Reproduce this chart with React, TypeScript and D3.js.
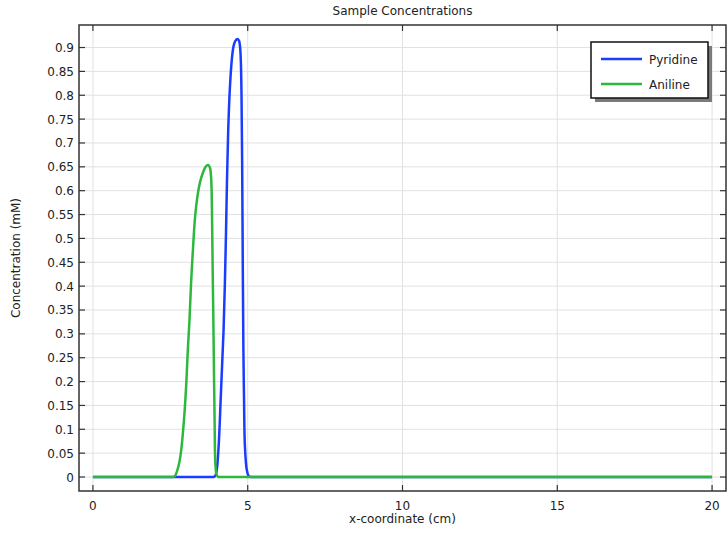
import React from "react";
import * as d3 from "d3";

const title = "Sample Concentrations";
const xLabel = "x-coordinate (cm)";
const yLabel = "Concentration (mM)";
const seriesNames = ["Pyridine", "Aniline"];
const seriesColors = ["#1b3cff", "#2db83d"];

const xTicks = [0, 5, 10, 15, 20];
const yTicks = [0, 0.05, 0.1, 0.15, 0.2, 0.25, 0.3, 0.35, 0.4, 0.45, 0.5, 0.55, 0.6, 0.65, 0.7, 0.75, 0.8, 0.85, 0.9];

const pyridineX = [0, 1, 2, 3, 3.5, 3.75, 3.85, 3.9, 3.95, 4.0, 4.06, 4.13, 4.22, 4.285, 4.33, 4.37, 4.42, 4.48, 4.54, 4.6, 4.67, 4.72, 4.755, 4.78, 4.8, 4.82, 4.84, 4.86, 4.88, 4.91, 4.97, 5.03, 5.1, 5.15, 5.25, 5.5, 6, 7, 8, 10, 12, 14, 16, 18, 20];
const pyridineY = [0, 0, 0, 0, 0, 0, 0, 0, 0.002, 0.015, 0.064, 0.168, 0.308, 0.47, 0.62, 0.727, 0.81, 0.87, 0.902, 0.914, 0.918, 0.914, 0.9, 0.867, 0.797, 0.66, 0.45, 0.27, 0.168, 0.064, 0.015, 0.002, 0, 0, 0, 0, 0, 0, 0, 0, 0, 0, 0, 0, 0];

const anilineX = [0, 1, 1.5, 2, 2.3, 2.45, 2.55, 2.6, 2.65, 2.76, 2.84, 2.94, 3.01, 3.06, 3.12, 3.17, 3.23, 3.3, 3.38, 3.46, 3.55, 3.64, 3.72, 3.78, 3.82, 3.845, 3.865, 3.89, 3.93, 3.96, 4.0, 4.05, 4.1, 4.2, 4.4, 4.7, 5, 6, 7, 8, 10, 12, 14, 16, 18, 20];
const anilineY = [0, 0, 0, 0, 0, 0, 0, 0, 0.002, 0.022, 0.05, 0.119, 0.189, 0.259, 0.33, 0.406, 0.476, 0.545, 0.59, 0.618, 0.637, 0.65, 0.654, 0.648, 0.625, 0.56, 0.45, 0.33, 0.119, 0.022, 0.004, 0, 0, 0, 0, 0, 0, 0, 0, 0, 0, 0, 0, 0, 0, 0];

const W = 728;
const H = 536;
const left = 79;
const right = 726;
const top = 25;
const bottom = 491;

export default function App() {
  const x = d3.scaleLinear().domain([-0.45, 20.45]).range([left, right]);
  const y = d3.scaleLinear().domain([-0.0293, 0.9472]).range([bottom, top]);
  const line = d3
    .line<[number, number]>()
    .x((d) => x(d[0]))
    .y((d) => y(d[1]))
    .curve(d3.curveCatmullRom.alpha(0.5));
  const series = [
    pyridineX.map((v, i) => [v, pyridineY[i]] as [number, number]),
    anilineX.map((v, i) => [v, anilineY[i]] as [number, number]),
  ];
  const font = "'DejaVu Sans', sans-serif";
  const tickLen = 6;
  const lx = 591, ly = 42, lw = 117, lh = 56;

  return (
    <svg width={W} height={H} style={{ position: "absolute", left: 0, top: 0, background: "#fff" }} fontFamily={font}>
      <rect x={0} y={0} width={W} height={H} fill="#fff" />
      {xTicks.map((t) => (
        <line key={"gx" + t} x1={x(t)} x2={x(t)} y1={top} y2={bottom} stroke="#e1e1e1" strokeWidth={1} />
      ))}
      {yTicks.map((t) => (
        <line key={"gy" + t} x1={left} x2={right} y1={y(t)} y2={y(t)} stroke="#e1e1e1" strokeWidth={1} />
      ))}
      {series.map((s, i) => (
        <path key={"s" + i} d={line(s) || ""} fill="none" stroke={seriesColors[i]} strokeWidth={2.5} strokeLinejoin="round" />
      ))}
      <rect x={left} y={top} width={right - left} height={bottom - top} fill="none" stroke="#333" strokeWidth={1.5} />
      {xTicks.map((t) => (
        <g key={"tx" + t}>
          <line x1={x(t)} x2={x(t)} y1={bottom} y2={bottom - tickLen} stroke="#333" strokeWidth={1.2} />
          <line x1={x(t)} x2={x(t)} y1={top} y2={top + tickLen} stroke="#333" strokeWidth={1.2} />
          <text x={x(t)} y={bottom + 19} textAnchor="middle" fontSize={12} fill="#222">
            {d3.format("~g")(t)}
          </text>
        </g>
      ))}
      {yTicks.map((t) => (
        <g key={"ty" + t}>
          <line x1={left} x2={left + tickLen} y1={y(t)} y2={y(t)} stroke="#333" strokeWidth={1.2} />
          <line x1={right} x2={right - tickLen} y1={y(t)} y2={y(t)} stroke="#333" strokeWidth={1.2} />
          <text x={left - 5} y={y(t) + 4.5} textAnchor="end" fontSize={12} fill="#222">
            {d3.format("~g")(t)}
          </text>
        </g>
      ))}
      <text x={(left + right) / 2} y={15} textAnchor="middle" fontSize={12} fill="#222">{title}</text>
      <text x={(left + right) / 2} y={523} textAnchor="middle" fontSize={12} fill="#222">{xLabel}</text>
      <text transform={`translate(20, ${(top + bottom) / 2}) rotate(-90)`} textAnchor="middle" fontSize={12} fill="#222">{yLabel}</text>
      <rect x={lx + 4} y={ly + 4} width={lw} height={lh} fill="#7a7a7a" />
      <rect x={lx} y={ly} width={lw} height={lh} fill="#fff" stroke="#111" strokeWidth={1.5} />
      {seriesNames.map((n, i) => (
        <g key={"l" + i}>
          <line x1={lx + 10} x2={lx + 51} y1={ly + 17 + i * 25} y2={ly + 17 + i * 25} stroke={seriesColors[i]} strokeWidth={2.5} />
          <text x={lx + 58} y={ly + 21.5 + i * 25} fontSize={12} fill="#222">{n}</text>
        </g>
      ))}
    </svg>
  );
}
